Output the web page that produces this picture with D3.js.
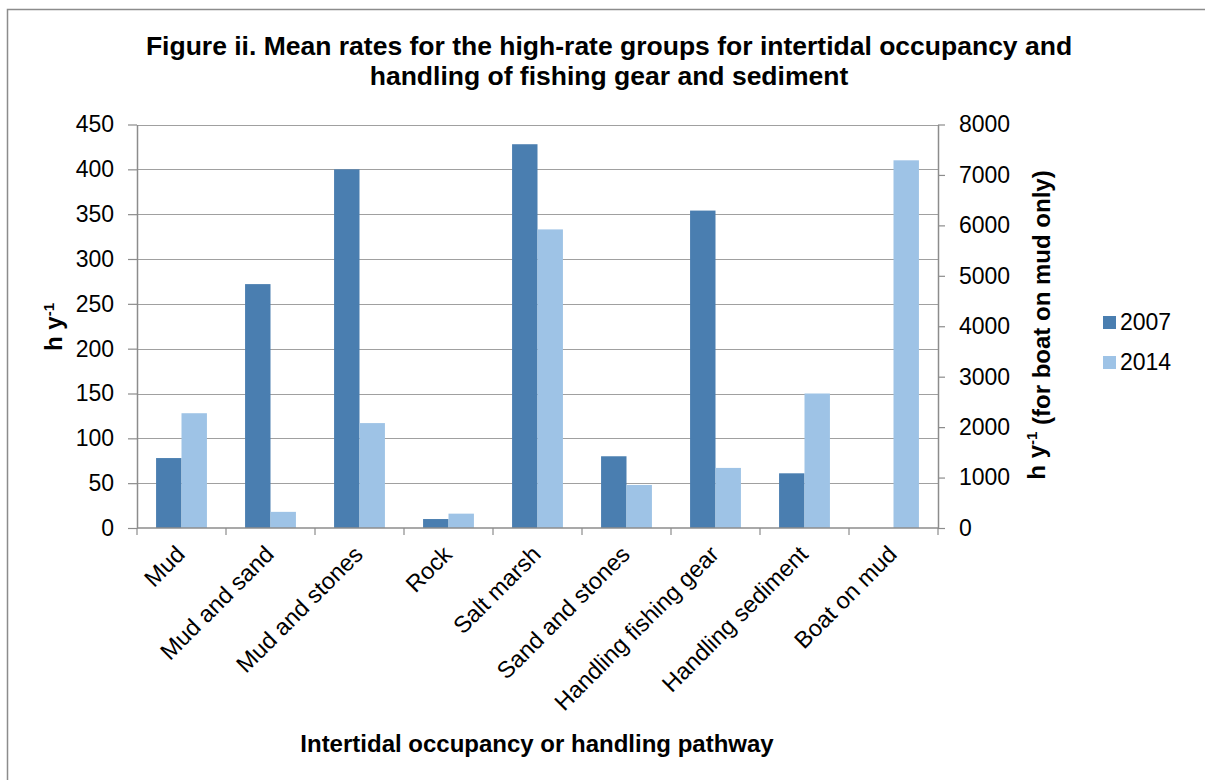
<!DOCTYPE html>
<html>
<head>
<meta charset="utf-8">
<script src="https://cdn.jsdelivr.net/npm/d3@7"></script>
<style>
  html, body { margin: 0; padding: 0; background: #fff; }
  svg { display: block; font-family: "Liberation Sans", Arial, sans-serif; }
</style>
</head>
<body>
<svg id="chart" width="1205" height="780"></svg>
<script>
// Categories and series (hours per year)
const categories = ["Mud", "Mud and sand", "Mud and stones", "Rock", "Salt marsh",
  "Sand and stones", "Handling fishing gear", "Handling sediment", "Boat on mud"];
const seriesNames = ["2007", "2014"];
// Left-axis values (null = no bar)
const values2007 = [78, 272, 400, 10, 428, 80, 354, 61, null];
const values2014 = [128, 18, 117, 16, 333, 48, 67, 150, null];
// "Boat on mud" is read against the right-hand axis
const boatOnMud2014 = 7290;
const leftTicks = [0, 50, 100, 150, 200, 250, 300, 350, 400, 450];
const rightTicks = [0, 1000, 2000, 3000, 4000, 5000, 6000, 7000, 8000];
const colors = {"2007": "#4a7eb0", "2014": "#9ec3e6"};

const FONT = "'Liberation Sans', Arial, sans-serif";
const svg = d3.select("#chart");
const m = {left: 137, right: 938, top: 124.5, bottom: 528};

// outer chart frame
svg.append("rect").attr("x", 7.5).attr("y", 9.5).attr("width", 1300).attr("height", 900)
  .attr("fill", "none").attr("stroke", "#8c8c8c").attr("stroke-width", 1.5);

const x = d3.scaleBand().domain(categories).range([m.left, m.right]);
const bw = x.bandwidth() / 3.5;
const yL = d3.scaleLinear().domain([0, 450]).range([m.bottom, m.top]);
const yR = d3.scaleLinear().domain([0, 8000]).range([m.bottom, m.top]);

// gridlines
svg.append("g").selectAll("line").data(leftTicks.slice(1)).join("line")
  .attr("x1", m.left).attr("x2", m.right)
  .attr("y1", d => Math.round(yL(d)) + 0.5).attr("y2", d => Math.round(yL(d)) + 0.5)
  .attr("stroke", "#a0a0a0").attr("stroke-width", 1.2);

// bars
const rows = [];
categories.forEach((c, i) => {
  if (values2007[i] != null) rows.push({c, s: "2007", y: yL(values2007[i]), k: 0});
  if (values2014[i] != null) rows.push({c, s: "2014", y: yL(values2014[i]), k: 1});
});
rows.push({c: "Boat on mud", s: "2014", y: yR(boatOnMud2014), k: 1});
svg.append("g").selectAll("rect").data(rows).join("rect")
  .attr("x", d => x(d.c) + (x.bandwidth() - 2 * bw) / 2 + d.k * bw)
  .attr("width", bw)
  .attr("y", d => d.y)
  .attr("height", d => m.bottom - d.y)
  .attr("fill", d => colors[d.s]);

// axes
const axisStyle = g => {
  g.select(".domain").attr("stroke", "#8c8c8c").attr("stroke-width", 1.5);
  g.selectAll(".tick line").attr("stroke", "#8c8c8c").attr("stroke-width", 1.2);
  g.selectAll("text").attr("fill", "#000").style("font-size", "23px")
    .style("font-family", FONT);
};
svg.append("g").attr("transform", `translate(${m.left},0)`)
  .call(d3.axisLeft(yL).tickValues(leftTicks).tickFormat(d3.format("d"))
    .tickSize(9).tickPadding(14).tickSizeOuter(0))
  .call(axisStyle);
svg.append("g").attr("transform", `translate(${m.right},0)`)
  .call(d3.axisRight(yR).tickValues(rightTicks).tickFormat(d3.format("d"))
    .tickSize(7).tickPadding(14).tickSizeOuter(0))
  .call(axisStyle);

// category axis with ticks between groups
const xg = svg.append("g").attr("transform", `translate(0,${m.bottom})`);
xg.append("line").attr("x1", m.left).attr("x2", m.right).attr("y1", 0).attr("y2", 0)
  .attr("stroke", "#8c8c8c").attr("stroke-width", 1.5);
xg.selectAll("line.tk").data(categories.concat(["end"])).join("line").attr("class", "tk")
  .attr("x1", (d, i) => m.left + i * x.bandwidth()).attr("x2", (d, i) => m.left + i * x.bandwidth())
  .attr("y1", 0).attr("y2", 7).attr("stroke", "#8c8c8c").attr("stroke-width", 1.2);
xg.selectAll("text").data(categories).join("text")
  .attr("transform", d => `translate(${x(d) + x.bandwidth() / 2 - 1},${22}) rotate(-45)`)
  .attr("text-anchor", "end").attr("dy", "0.35em")
  .style("font-size", "23.5px").text(d => d);

// titles
const title = svg.append("text").attr("x", 609).attr("text-anchor", "middle")
  .style("font-size", "26.5px").style("font-weight", "bold");
title.append("tspan").attr("x", 609).attr("y", 55)
  .text("Figure ii. Mean rates for the high-rate groups for intertidal occupancy and");
title.append("tspan").attr("x", 609).attr("y", 85)
  .text("handling of fishing gear and sediment");

svg.append("text").attr("x", 537).attr("y", 752).attr("text-anchor", "middle")
  .style("font-size", "24px").style("font-weight", "bold")
  .text("Intertidal occupancy or handling pathway");

const yTitleL = svg.append("text").attr("transform", "translate(62,327) rotate(-90)")
  .attr("text-anchor", "middle").style("font-size", "24px").style("font-weight", "bold");
yTitleL.append("tspan").text("h y");
yTitleL.append("tspan").attr("dy", "-0.55em").style("font-size", "15px").text("-1");

const yTitleR = svg.append("text").attr("transform", "translate(1045,325) rotate(-90)")
  .attr("text-anchor", "middle").style("font-size", "24px").style("font-weight", "bold");
yTitleR.append("tspan").text("h y");
yTitleR.append("tspan").attr("dy", "-0.55em").style("font-size", "15px").text("-1");
yTitleR.append("tspan").attr("dy", "0.55em").text(" (for boat on mud only)");

// legend
const lg = svg.append("g").selectAll("g").data(seriesNames).join("g")
  .attr("transform", (d, i) => `translate(1103,${316 + i * 40})`);
lg.append("rect").attr("width", 13).attr("height", 13).attr("fill", d => colors[d]);
lg.append("text").attr("x", 17).attr("y", 14).style("font-size", "23px").text(d => d);
</script>
</body>
</html>
